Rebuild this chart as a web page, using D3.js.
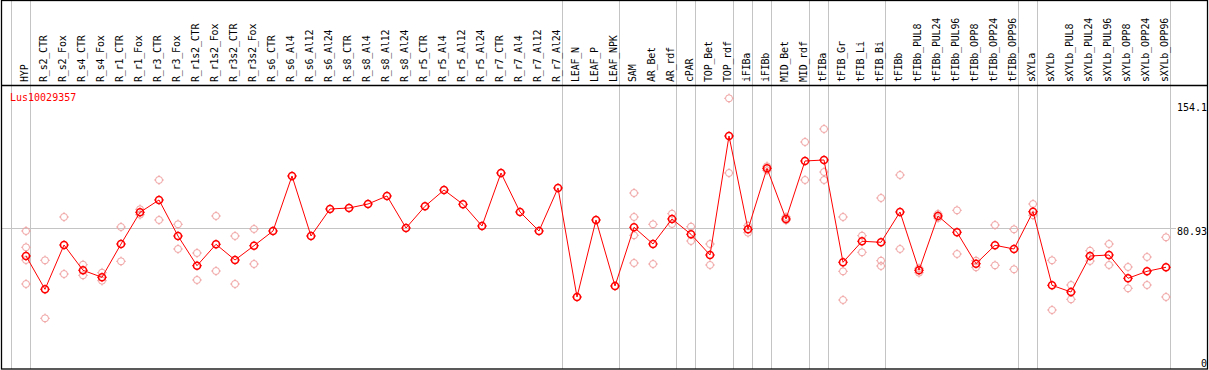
<!DOCTYPE html>
<html>
<head>
<meta charset="utf-8">
<script src="https://cdn.jsdelivr.net/npm/d3@7"></script>
<style>
  body { margin: 0; background: #fff; }
  svg { display: block; }
  text { font-family: "DejaVu Sans Mono", "Liberation Mono", monospace; font-size: 10px; }
</style>
</head>
<body>
<div id="chart"></div>
<script>
const W = 1209, H = 370;

const geneId = "Lus10029357";

const categories = [
  "HYP", "R_s2_CTR", "R_s2_Fox", "R_s4_CTR", "R_s4_Fox", "R_r1_CTR", "R_r1_Fox", "R_r3_CTR", "R_r3_Fox",
  "R_r1s2_CTR", "R_r1s2_Fox", "R_r3s2_CTR", "R_r3s2_Fox", "R_s6_CTR", "R_s6_Al4", "R_s6_Al12", "R_s6_Al24",
  "R_s8_CTR", "R_s8_Al4", "R_s8_Al12", "R_s8_Al24", "R_r5_CTR", "R_r5_Al4", "R_r5_Al12", "R_r5_Al24",
  "R_r7_CTR", "R_r7_Al4", "R_r7_Al12", "R_r7_Al24", "LEAF_N", "LEAF_P", "LEAF_NPK", "SAM", "AR_Bet", "AR_rdf",
  "cPAR", "TOP_Bet", "TOP_rdf", "iFIBa", "iFIBb", "MID_Bet", "MID_rdf", "tFIBa", "tFIB_Gr", "tFIB_Li", "tFIB_Bi",
  "tFIBb", "tFIBb_PUL8", "tFIBb_PUL24", "tFIBb_PUL96", "tFIBb_OPP8", "tFIBb_OPP24", "tFIBb_OPP96",
  "sXYLa", "sXYLb", "sXYLb_PUL8", "sXYLb_PUL24", "sXYLb_PUL96", "sXYLb_OPP8", "sXYLb_OPP24", "sXYLb_OPP96"
];

// mean expression per sample
const meanValues = [
  65.35, 46.60, 71.54, 57.30, 53.36, 72.10, 89.94, 96.87, 76.60,
  59.89, 71.93, 63.09, 71.14, 79.42, 110.37, 76.60, 91.80,
  92.36, 94.61, 99.12, 81.10, 93.32, 102.49, 94.44, 82.23,
  112.06, 90.11, 79.42, 103.62, 42.27, 85.61, 48.46, 81.50, 72.10, 86.17,
  77.56, 65.91, 132.89, 80.37, 114.71, 86.17, 118.82, 119.38, 61.80, 73.62, 73.06,
  90.11, 57.30, 87.86, 78.69, 61.01, 71.37, 69.29,
  90.28, 48.85, 45.08, 65.35, 65.91, 52.79, 56.73, 58.99
];

// individual replicates per sample (empty = single sample)
const replicates = [
  [79.42, 70.24, 63.09, 49.59], [62.93, 30.28], [87.30, 55.21], [60.45, 54.48], [55.95, 51.44],
  [81.67, 62.36], [91.63, 88.59], [108.12, 85.61], [83.19, 69.29],
  [67.03, 51.84], [87.86, 56.90], [76.60, 49.59], [80.54, 60.84], [], [], [], [],
  [], [], [], [], [], [], [], [],
  [], [], [], [], [], [], [], [100.80, 87.30, 77.00, 61.41], [83.19, 60.84], [89.15, 83.36],
  [81.84, 73.79], [72.10, 60.28], [154.1, 112.06], [82.40, 78.46], [115.83, 113.58], [87.30, 85.44],
  [129.51, 108.12], [136.83, 112.62, 108.12], [87.30, 56.73, 40.58], [76.77, 67.43], [97.99, 62.70, 59.72],
  [110.94, 69.29], [58.42, 55.95], [88.99, 86.73], [91.07, 66.47], [62.70, 58.99], [82.79, 60.11], [80.37, 57.86],
  [94.61, 88.25], [62.93, 34.95], [49.02, 40.97], [68.33, 62.53], [72.10, 60.28], [59.15, 47.17], [64.78, 49.02], [75.87, 42.27]
];

// index of last sample in each group (separator lines drawn after these)
const groupEnds = [-1, 0, 28, 31, 34, 35, 37, 38, 39, 41, 42, 45, 52, 53, 60];

const yTicks = [0, 80.93, 154.1];

const x = d3.scaleLinear().domain([0, categories.length - 1]).range([26, 1166]);
const y = d3.scaleLinear().domain([0, 154.1]).range([372.1, 98.3]);

const svg = d3.select("#chart").append("svg")
  .attr("width", W).attr("height", H);

// separators
svg.append("g").selectAll("line")
  .data(groupEnds)
  .join("line")
  .attr("x1", d => Math.round(x(d)) + 4.5).attr("x2", d => Math.round(x(d)) + 4.5)
  .attr("y1", 0).attr("y2", 369)
  .attr("stroke", "#c4c4c4").attr("stroke-width", 1);

// middle reference line
svg.append("line")
  .attr("x1", 1).attr("x2", 1176)
  .attr("y1", Math.round(y(80.93)) + 0.5).attr("y2", Math.round(y(80.93)) + 0.5)
  .attr("stroke", "#c4c4c4");

// frame
svg.append("rect")
  .attr("x", 1.5).attr("y", 0.5).attr("width", 1206).attr("height", 368.5)
  .attr("fill", "none").attr("stroke", "#000").attr("stroke-width", 1.3);
svg.append("line")
  .attr("x1", 1).attr("x2", 1208).attr("y1", 85.5).attr("y2", 85.5)
  .attr("stroke", "#000").attr("stroke-width", 1.3);

// sample labels
svg.append("g").selectAll("text")
  .data(categories)
  .join("text")
  .attr("transform", (d, i) => `translate(${x(i) + 2},82) rotate(-90)`)
  .attr("fill", "#000")
  .attr("letter-spacing", "-0.2")
  .text(d => d);

// y labels
svg.append("g").selectAll("text")
  .data(yTicks)
  .join("text")
  .attr("x", 1207)
  .attr("y", d => Math.max(107, Math.min(363, y(d) + 3)))
  .attr("dy", "0.35em")
  .attr("text-anchor", "end")
  .attr("fill", "#000")
  .text(d => d);

svg.append("text")
  .attr("x", 10).attr("y", 101)
  .attr("fill", "#f00")
  .text(geneId);

function marker(g, cx, cy, color, sw) {
  const r = 3.5;
  g.append("circle").attr("cx", cx).attr("cy", cy).attr("r", r)
    .attr("fill", "none").attr("stroke", color).attr("stroke-width", sw);
  [[0, -1], [0, 1], [-1, 0], [1, 0]].forEach(([dx, dy]) => {
    g.append("line")
      .attr("x1", cx + dx * r).attr("y1", cy + dy * r)
      .attr("x2", cx + dx * (r + 1.3)).attr("y2", cy + dy * (r + 1.3))
      .attr("stroke", color).attr("stroke-width", 1);
  });
}

// replicates
const repG = svg.append("g");
replicates.forEach((reps, i) => {
  reps.forEach(v => marker(repG, x(i), y(v), "#f0a0a0", 1));
});

// mean line
svg.append("path")
  .datum(meanValues)
  .attr("fill", "none")
  .attr("stroke", "#f00")
  .attr("stroke-width", 1)
  .attr("d", d3.line().x((d, i) => x(i)).y(d => y(d)));

const meanG = svg.append("g");
meanValues.forEach((v, i) => marker(meanG, x(i), y(v), "#f00", 1.6));
</script>
</body>
</html>
